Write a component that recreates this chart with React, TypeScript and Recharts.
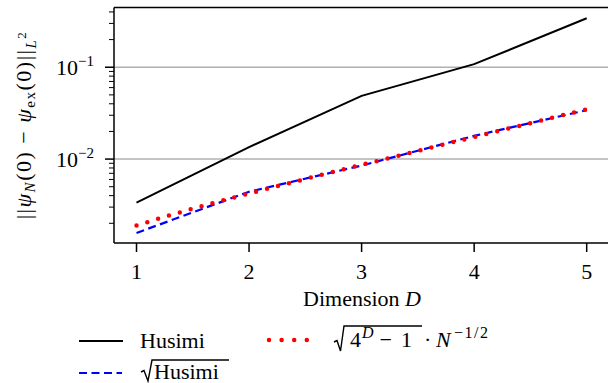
import React from 'react';
import { LineChart, Line, XAxis, YAxis, ReferenceLine } from 'recharts';

// D values and errors
const dims = [1, 2, 3, 4, 5];
const husimi = [0.00335, 0.0135, 0.0488, 0.108, 0.341];
const sqrtHusimi = [0.00157, 0.00441, 0.0085, 0.0179, 0.0341];

// the dotted bound curve, sampled along D
const boundDims = [1, 1.25, 1.5, 1.75, 2, 2.25, 2.5, 2.75, 3, 3.25, 3.5, 3.75, 4, 4.25, 4.5, 4.75, 5];
const bound = [
  0.00189, 0.00235, 0.00288, 0.0035, 0.00422, 0.00507, 0.00607, 0.00725, 0.00865,
  0.01031, 0.01228, 0.01463, 0.01741, 0.02071, 0.02463, 0.02931, 0.03486,
];

const xTicks = [1, 2, 3, 4, 5];
const yMajor = [0.01, 0.1];
const yMajorExp = ['\u22122', '\u22121'];
const yMinor = [
  0.002, 0.003, 0.004, 0.005, 0.006, 0.007, 0.008, 0.009,
  0.02, 0.03, 0.04, 0.05, 0.06, 0.07, 0.08, 0.09,
  0.2, 0.3, 0.4,
];

const xDomain = [0.8, 5.2];
const yDomain = [0.00122, 0.447];

const SERIF = { fontFamily: 'Liberation Serif' };

const husimiData = dims.map((d, i) => ({ d, v: husimi[i] }));
const sqrtData = dims.map((d, i) => ({ d, v: sqrtHusimi[i] }));
const boundData = boundDims.map((d, i) => ({ d, v: bound[i] }));

const YTick = ({ x, y, payload }: any) => {
  const i = yMajor.indexOf(payload.value);
  if (i < 0) {
    return <line x1={x - 5} x2={x} y1={y} y2={y} stroke="#000" strokeWidth={1} />;
  }
  return (
    <g>
      <line x1={x - 9} x2={x} y1={y} y2={y} stroke="#000" strokeWidth={1.5} />
      <text x={x - 20} y={y + 7.5} textAnchor="end" fontSize={22} style={SERIF} fill="#000">
        10<tspan dy={-9} fontSize={15}>{yMajorExp[i]}</tspan>
      </text>
    </g>
  );
};

const XTick = ({ x, y, payload }: any) => (
  <g>
    <line x1={x} x2={x} y1={y} y2={y + 9} stroke="#000" strokeWidth={1.5} />
    <text x={x} y={y + 36} textAnchor="middle" fontSize={22} style={SERIF} fill="#000">
      {payload.value}
    </text>
  </g>
);

const YLabel = () => (
  <text
    x={31}
    y={125}
    transform="rotate(-90 31 125)"
    textAnchor="middle"
    fontSize={22}
    style={SERIF}
    fill="#000"
    letterSpacing={1.5}
  >
    ||<tspan fontStyle="italic">ψ</tspan>
    <tspan fontSize={15} dy={4} fontStyle="italic">N</tspan>
    <tspan dy={-4}>(0) − </tspan>
    <tspan fontStyle="italic">ψ</tspan>
    <tspan fontSize={15} dy={4}>ex</tspan>
    <tspan dy={-4}>(0)||</tspan>
    <tspan fontSize={15} dy={5} fontStyle="italic">L</tspan>
    <tspan fontSize={13} dy={-10}>2</tspan>
  </text>
);

const XLabel = () => (
  <text x={362} y={306} textAnchor="middle" fontSize={22} style={SERIF} fill="#000">
    Dimension <tspan fontStyle="italic">D</tspan>
  </text>
);

const LegendBox = () => (
  <svg
    width={608}
    height={383}
    style={{ position: 'absolute', left: 0, top: 0, pointerEvents: 'none', fontFamily: 'Liberation Serif' }}
    fontSize={22}
  >
    {/* Husimi */}
    <line x1={79} x2={123} y1={341} y2={341} stroke="#000" strokeWidth={2} />
    <text x={140} y={348}>Husimi</text>
    {/* bound */}
    <line x1={269} x2={307.5} y1={340} y2={340} stroke="#ff0000" strokeWidth={4.5} strokeLinecap="round" strokeDasharray="0 12.6" />
    <path d="M334 342 L337 340.5 L340.5 351 L344 326 L422 326" fill="none" stroke="#000" strokeWidth={1.4} />
    <text x={350} y={347}>
      4<tspan fontSize={16} dx={1} dy={-9} fontStyle="italic">D</tspan>
      <tspan dx={6} dy={9}>−</tspan>
      <tspan dx={9}>1</tspan>
    </text>
    <text x={424} y={347}>·</text>
    <text x={436} y={347} fontStyle="italic">N</text>
    <text x={454} y={338} fontSize={16} letterSpacing={1.5}>−1/2</text>
    {/* sqrt Husimi */}
    <line x1={79} x2={122} y1={373} y2={373} stroke="#0000ff" strokeWidth={2.2} strokeDasharray="8 4.5" />
    <path d="M141 372 L144 370.5 L148 381 L152 360 L229 360" fill="none" stroke="#000" strokeWidth={1.4} />
    <text x={154} y={379}>Husimi</text>
  </svg>
);

export default function App() {
  return (
    <div style={{ position: 'fixed', left: 0, top: 0, width: 608, height: 383, overflow: 'hidden', background: '#fff' }}>
      <LineChart width={620} height={383} margin={{ top: 7.5, right: 10.8, bottom: 100, left: 0 }}>
        <XAxis
          dataKey="d"
          type="number"
          domain={xDomain}
          ticks={xTicks}
          allowDataOverflow
          height={40}
          stroke="#000"
          strokeWidth={1.5}
          tickLine={false}
          tickSize={0}
          tickMargin={0}
          tick={<XTick />}
          label={<XLabel />}
        />
        <YAxis
          scale="log"
          type="number"
          domain={yDomain}
          ticks={[...yMinor, ...yMajor]}
          allowDataOverflow
          width={114}
          stroke="#000"
          strokeWidth={1.5}
          tickLine={false}
          tickSize={0}
          tickMargin={0}
          tick={<YTick />}
          interval={0}
          label={<YLabel />}
        />
        <ReferenceLine y={yMajor[0]} stroke="#b0b0b0" strokeWidth={1.5} />
        <ReferenceLine y={yMajor[1]} stroke="#b0b0b0" strokeWidth={1.5} />
        <ReferenceLine y={yDomain[1]} stroke="#000" strokeWidth={1.5} />
        <ReferenceLine x={xDomain[1]} stroke="#000" strokeWidth={1.5} />
        <Line data={husimiData} dataKey="v" stroke="#000" strokeWidth={2} dot={false} isAnimationActive={false} />
        <Line data={sqrtData} dataKey="v" stroke="#0000ff" strokeWidth={2.2} strokeDasharray="8 4.5" dot={false} isAnimationActive={false} />
        <Line
          data={boundData}
          dataKey="v"
          stroke="#ff0000"
          strokeWidth={4.5}
          strokeLinecap="round"
          strokeDasharray="0 11.3"
          dot={false}
          isAnimationActive={false}
        />
      </LineChart>
      <LegendBox />
    </div>
  );
}
